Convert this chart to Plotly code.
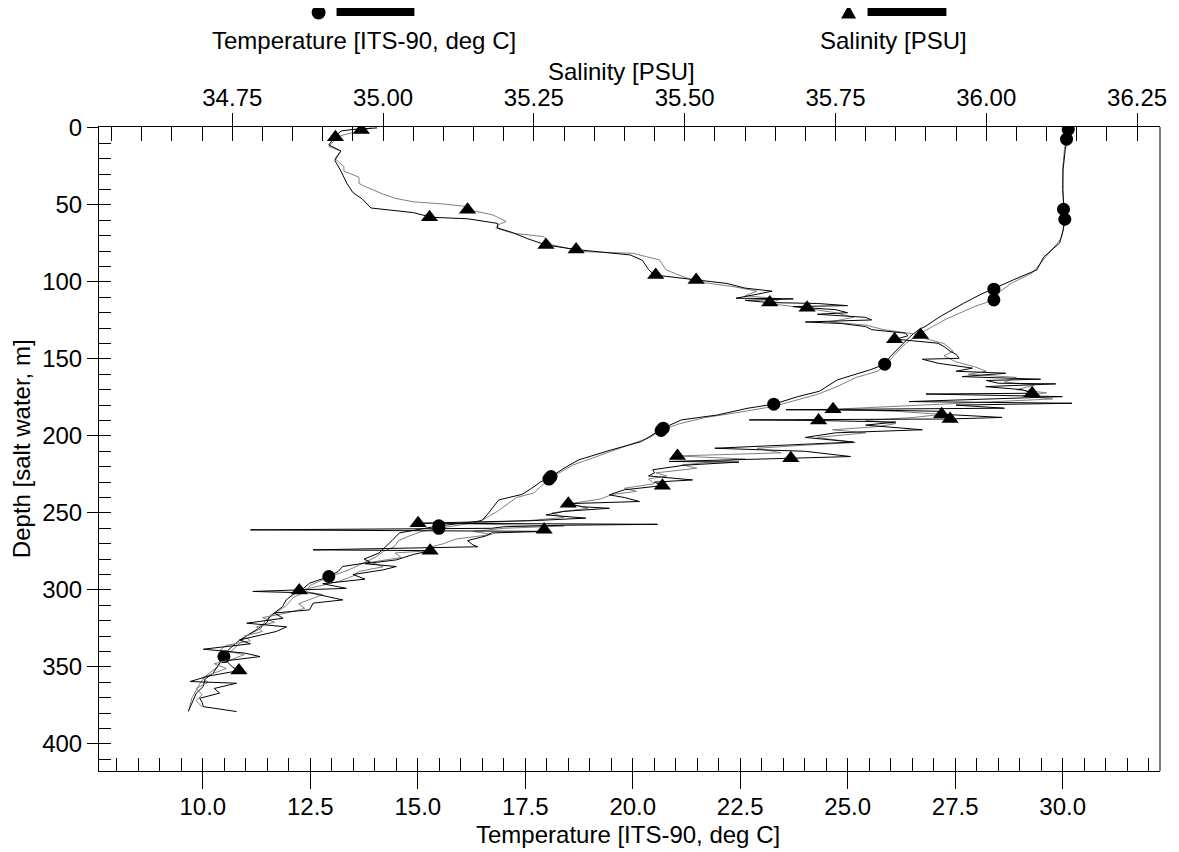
import plotly.graph_objects as go

FONT = "Liberation Sans, Arial, sans-serif"
FS = 24

# ---------------- data ----------------
temp_down_depth = [0, 6, 14, 27, 40, 52.6, 59.7, 67.5, 74.7, 83.8,
                   92.2, 98.7, 104.5, 108, 113.8, 122.5, 129, 131, 135.5, 142,
                   148.5, 153.5, 157, 163.6, 171, 174.5, 179.4, 182, 186.4, 189.6,
                   195, 203.7, 209, 215.6, 221, 226.4, 230, 234, 238, 241.6,
                   250, 255, 256, 258.4, 263, 268, 272, 276, 280, 282,
                   284.8, 288, 291.3, 295.7, 300, 303, 306.5, 311, 317.3, 321,
                   326, 332.5, 339, 343.3, 348, 354, 358, 362.7, 367, 371.4,
                   376, 379]
temp_down = [30.14, 30.12, 30.06, 30.01, 30.00, 30.03, 30.05, 30.00, 29.93, 29.56,
             29.40, 28.85, 28.40, 28.10, 27.70, 27.15, 26.80, 26.65, 26.45, 26.22,
             25.99, 25.86, 25.53, 24.76, 24.34, 23.84, 23.28, 22.68, 21.97, 21.13,
             20.71, 20.20, 19.51, 18.74, 18.40, 18.10, 17.85, 17.65, 17.42, 16.88,
             16.65, 16.49, 16.26, 15.49, 14.57, 14.40, 14.26, 14.10, 13.75, 13.90,
             13.25, 13.15, 12.93, 12.48, 12.30, 12.10, 11.94, 11.85, 11.55, 11.50,
             11.24, 10.86, 10.59, 10.49, 10.40, 10.24, 10.05, 10.01, 9.85, 9.78,
             9.70, 9.66]

temp_up_depth = [0, 7, 14, 27, 40, 52, 59.3, 66, 72, 78,
                 86, 94, 101, 106, 111.7, 116, 124, 130, 134, 140,
                 147, 153.4, 158, 162, 168, 173, 177, 181, 185, 188,
                 192, 196, 201, 206, 212, 219, 228, 233, 237, 240,
                 244, 249, 253, 256, 260, 262, 265, 268, 272, 275,
                 279, 283, 287, 291, 294, 297, 301, 305, 310, 315,
                 320, 325, 330, 335, 340, 345, 350, 355, 360, 365,
                 370, 375, 378]
temp_up = [30.12, 30.09, 30.04, 30.00, 30.01, 30.02, 30.05, 30.02, 29.96, 29.78,
           29.52, 29.30, 28.80, 28.55, 28.40, 27.95, 27.30, 26.90, 26.65, 26.35,
           26.10, 25.90, 25.70, 25.20, 24.75, 24.30, 23.80, 23.25, 22.40, 21.70,
           21.10, 20.68, 20.40, 19.90, 19.30, 18.60, 18.05, 17.85, 17.70, 17.30,
           17.10, 16.85, 16.60, 16.40, 15.49, 15.10, 14.80, 14.55, 14.45, 14.20,
           14.00, 13.70, 13.40, 13.00, 12.75, 12.50, 12.40, 12.10, 11.95, 11.70,
           11.45, 11.35, 11.00, 10.85, 10.65, 10.45, 10.35, 10.10, 9.95, 9.85,
           9.75, 9.70, 9.68]

sal_down_depth = [0, 1, 2, 6, 11, 15, 21, 28, 36, 42,
                  46, 52, 55, 58, 59, 62, 65, 68, 72, 76,
                  79, 82.5, 86, 92, 95.5, 98.7, 101, 104, 106, 108,
                  110.6, 111, 112, 113.4, 114, 115.4, 116, 116.7, 118, 120,
                  121, 123, 124.7, 126, 127, 129, 131, 133.3, 135, 137.2,
                  139.8, 142, 145, 147, 149.6, 150.2, 152.8, 156, 158, 159.3,
                  161.5, 163.2, 164, 165.8, 166.2, 168, 170, 172.3, 172.8, 174.5,
                  177.7, 178.8, 180, 182, 183, 183.5, 184, 186, 188, 189,
                  189.6, 190, 191, 193, 196, 198, 201, 204, 206, 208,
                  210, 213.4, 214.5, 216.6, 217, 219, 222, 224, 226, 228.6,
                  230, 232.3, 235, 238.3, 240, 242.6, 244, 246, 247, 249,
                  251.3, 253.4, 255, 256.7, 257.4, 258, 259, 260, 261, 262,
                  263, 265, 268, 270.8, 272, 274, 274.5, 277, 280.5, 283,
                  284.8, 287, 290, 293, 296, 299, 301, 302, 306.5, 308.6,
                  313, 315, 318.4, 321.6, 324, 327, 332.5, 335, 338.5, 341,
                  343.3, 346, 350, 352.4, 356, 359.5, 360.6, 364, 367, 370.4,
                  373, 375.8, 379]
sal_down = [34.99, 34.95, 34.93, 34.92, 34.91, 34.93, 34.92, 34.93, 34.94, 34.95,
            34.965, 34.98, 35.05, 35.08, 35.14, 35.19, 35.19, 35.215, 35.24, 35.27,
            35.32, 35.41, 35.43, 35.44, 35.45, 35.52, 35.57, 35.60, 35.645, 35.62,
            35.585, 35.68, 35.60, 35.64, 35.72, 35.77, 35.68, 35.70, 35.75, 35.77,
            35.72, 35.80, 35.81, 35.70, 35.76, 35.80, 35.81, 35.866, 35.87, 35.85,
            35.92, 35.93, 35.94, 35.95, 35.955, 35.894, 35.92, 35.977, 35.95, 36.032,
            35.96, 36.09, 36.00, 36.02, 36.115, 35.999, 36.06, 36.076, 35.90, 36.126,
            35.872, 36.142, 35.95, 36.03, 35.668, 35.85, 35.92, 35.93, 36.026, 35.94,
            35.607, 35.72, 35.85, 35.80, 35.894, 35.75, 35.70, 35.78, 35.65, 35.55,
            35.70, 35.775, 35.676, 35.474, 35.59, 35.50, 35.447, 35.45, 35.44, 35.513,
            35.45, 35.463, 35.40, 35.375, 35.40, 35.425, 35.307, 35.33, 35.375, 35.30,
            35.27, 35.336, 35.25, 35.06, 35.455, 35.30, 35.20, 35.18, 34.78, 35.27,
            35.18, 35.17, 35.14, 35.149, 35.157, 34.884, 35.078, 35.05, 35.022, 34.97,
            35.022, 35.00, 34.95, 34.97, 34.90, 34.939, 34.784, 34.88, 34.933, 34.884,
            34.878, 34.82, 34.834, 34.774, 34.84, 34.823, 34.762, 34.78, 34.702, 34.77,
            34.796, 34.74, 34.75, 34.761, 34.71, 34.68, 34.757, 34.72, 34.729, 34.696,
            34.70, 34.702, 34.757]

sal_up_depth = [0, 2, 5, 8, 12, 15, 20, 25, 28, 32,
                36, 38, 43, 45.7, 48, 49.4, 51, 53, 56.5, 60.8,
                63, 65, 68.4, 70.5, 76, 80.3, 81.4, 85.7, 92.2, 97,
                99.8, 103, 106, 109, 111, 114, 117, 120, 123, 126,
                128, 131, 134.4, 137, 140, 145, 148, 152, 155, 158,
                160, 162, 165, 167, 170, 172, 174, 176, 178, 180,
                182.7, 184, 186, 188, 190, 192, 194, 196, 198, 201,
                204.3, 206, 208, 211, 213, 215, 218.8, 221, 224, 226,
                228, 231, 234, 236, 238, 241, 244, 247, 250, 253,
                255, 257, 258.5, 260, 262, 264, 267, 270, 272, 274.5,
                276, 279, 282, 285, 288, 291, 294, 297, 300.4, 303,
                306, 309, 312, 315, 318, 321, 324, 327, 330, 333,
                336, 339, 342, 345, 348, 351, 354, 357, 360, 364,
                368, 372, 376]
sal_up = [34.98, 34.96, 34.93, 34.92, 34.91, 34.93, 34.92, 34.935, 34.935, 34.96,
          34.96, 34.97, 35.00, 35.02, 35.05, 35.10, 35.138, 35.14, 35.182, 35.204,
          35.19, 35.187, 35.215, 35.265, 35.281, 35.331, 35.414, 35.458, 35.469, 35.50,
          35.519, 35.58, 35.62, 35.60, 35.66, 35.64, 35.70, 35.75, 35.78, 35.74,
          35.80, 35.83, 35.891, 35.90, 35.93, 35.945, 35.93, 35.95, 35.98, 36.00,
          35.97, 36.05, 36.03, 36.08, 36.05, 36.10, 36.06, 36.11, 36.00, 35.90,
          35.746, 35.85, 35.926, 35.88, 35.80, 35.85, 35.82, 35.745, 35.80, 35.72,
          35.783, 35.70, 35.62, 35.66, 35.488, 35.60, 35.496, 35.52, 35.452, 35.47,
          35.44, 35.45, 35.40, 35.42, 35.38, 35.36, 35.31, 35.34, 35.28, 35.30,
          35.24, 35.12, 35.30, 35.20, 35.15, 35.18, 35.12, 35.10, 35.08, 35.078,
          35.02, 35.03, 34.98, 35.00, 34.96, 34.95, 34.93, 34.90, 34.861, 34.90,
          34.88, 34.86, 34.87, 34.84, 34.80, 34.82, 34.79, 34.80, 34.77, 34.78,
          34.74, 34.73, 34.77, 34.75, 34.72, 34.74, 34.72, 34.70, 34.71, 34.69,
          34.70, 34.69, 34.70]

temp_marker_depth = [1, 7.3, 52.8, 59.3, 104.7, 111.7, 153.4, 179.4, 195, 196.5,
                     226.4, 228, 258.4, 260, 291.3, 343.3]
temp_marker = [30.13, 30.09, 30.02, 30.05, 28.40, 28.40, 25.86, 23.28, 20.71, 20.66,
               18.10, 18.05, 15.49, 15.49, 12.93, 10.49]

sal_marker_depth = [1.3, 6, 53.2, 58, 76, 79, 95.5, 98.7, 113.4, 116.7,
                    134.4, 137.2, 172.3, 182.7, 186, 189, 190, 213, 214.5, 232.3,
                    244, 256.7, 261, 274.5, 300.4, 352.4]
sal_marker = [34.964, 34.921, 35.140, 35.077, 35.270, 35.320, 35.452, 35.519, 35.641, 35.703,
              35.891, 35.848, 36.076, 35.746, 35.926, 35.940, 35.722, 35.488, 35.676, 35.463,
              35.307, 35.058, 35.267, 35.078, 34.861, 34.761]

temp_ticks = [10.0, 12.5, 15.0, 17.5, 20.0, 22.5, 25.0, 27.5, 30.0]
sal_ticks = [34.75, 35.00, 35.25, 35.50, 35.75, 36.00, 36.25]
depth_ticks = [0, 50, 100, 150, 200, 250, 300, 350, 400]

assert len(temp_down_depth) == len(temp_down)
assert len(temp_up_depth) == len(temp_up)
assert len(sal_down_depth) == len(sal_down)
assert len(sal_up_depth) == len(sal_up)
assert len(temp_marker_depth) == len(temp_marker)
assert len(sal_marker_depth) == len(sal_marker)

# ---------------- layout constants ----------------
T_RANGE = [7.585, 32.264]
S_RANGE = [34.529, 36.288]
D_RANGE = [417.6, -0.6]
BODY = 8                      # default page margin around the plot div
W, H = 1179 - BODY, 852 - BODY
ML, MR, MT, MB = 99 - BODY, 17, 127 - BODY, 81
PW, PH = W - ML - MR, H - MT - MB


def px(x):   # page pixel -> paper x
    return (x - BODY - ML) / PW


def py(y):   # page pixel -> paper y
    return (H - MB - (y - BODY)) / PH


GRAY = "#808080"
fig = go.Figure()
fig.add_trace(go.Scatter(x=temp_up, y=temp_up_depth, xaxis="x", yaxis="y", mode="lines",
                         line=dict(color=GRAY, width=1), showlegend=False, hoverinfo="skip"))
fig.add_trace(go.Scatter(x=sal_up, y=sal_up_depth, xaxis="x2", yaxis="y", mode="lines",
                         line=dict(color=GRAY, width=1), showlegend=False, hoverinfo="skip"))
fig.add_trace(go.Scatter(x=temp_down, y=temp_down_depth, xaxis="x", yaxis="y", mode="lines",
                         line=dict(color="black", width=1), showlegend=False))
fig.add_trace(go.Scatter(x=sal_down, y=sal_down_depth, xaxis="x2", yaxis="y", mode="lines",
                         line=dict(color="black", width=1), showlegend=False))
fig.add_trace(go.Scatter(x=temp_marker, y=temp_marker_depth, xaxis="x", yaxis="y", mode="markers",
                         marker=dict(symbol="circle", size=13, color="black"), showlegend=False))
fig.add_trace(go.Scatter(x=sal_marker, y=sal_marker_depth, xaxis="x2", yaxis="y", mode="markers",
                         marker=dict(symbol="triangle-up", size=15, color="black"), showlegend=False))
# invisible carriers so the minor-tick axes get drawn
for xa, ya in (("x3", "y"), ("x4", "y"), ("x", "y2")):
    fig.add_trace(go.Scatter(x=[None], y=[None], xaxis=xa, yaxis=ya, mode="lines",
                             showlegend=False, hoverinfo="skip"))

tickfont = dict(family=FONT, size=FS, color="black")
common = dict(showgrid=False, zeroline=False, tickcolor="black", tickwidth=1)

fig.update_layout(
    width=W, height=H,
    margin=dict(l=ML, r=MR, t=MT, b=MB, pad=0),
    paper_bgcolor="white", plot_bgcolor="white",
    font=dict(family=FONT, size=FS, color="black"),
    xaxis=dict(range=T_RANGE, tickvals=temp_ticks, ticktext=["%.1f" % v for v in temp_ticks],
               ticks="outside", ticklen=17, showline=True, linecolor="black", linewidth=1,
               tickfont=tickfont, anchor="y", side="bottom", ticklabelstandoff=-3, **common),
    xaxis3=dict(range=T_RANGE, overlaying="x", anchor="y", side="bottom", tick0=0, dtick=0.5,
                ticks="inside", ticklen=13, showticklabels=False, showline=False, **common),
    xaxis2=dict(range=S_RANGE, overlaying="x", anchor="y", side="top", tickvals=sal_ticks,
                ticktext=["%.2f" % v for v in sal_ticks], ticks="outside", ticklen=13,
                showline=True, linecolor="black", linewidth=1, tickfont=tickfont,
                ticklabelstandoff=-3, **common),
    xaxis4=dict(range=S_RANGE, overlaying="x", anchor="y", side="top", tick0=0, dtick=0.05,
                ticks="inside", ticklen=14, showticklabels=False, showline=False, **common),
    yaxis=dict(range=D_RANGE, tickvals=depth_ticks, ticks="outside", ticklen=11, showline=True,
               linecolor="black", linewidth=1, tickfont=tickfont, anchor="x", side="left", **common),
    yaxis2=dict(range=D_RANGE, overlaying="y", anchor="x", side="left", tick0=0, dtick=10,
                ticks="inside", ticklen=12, showticklabels=False, showline=False, **common),
)

shapes = [
    dict(type="line", xref="paper", yref="paper", x0=1, x1=1, y0=0, y1=1,
         line=dict(color="black", width=1)),
    dict(type="circle", xref="paper", yref="paper", x0=px(312), x1=px(326), y0=py(19.5), y1=py(5.5),
         fillcolor="black", line=dict(color="black", width=0)),
    dict(type="rect", xref="paper", yref="paper", x0=px(337), x1=px(415), y0=py(16), y1=py(8),
         fillcolor="black", line=dict(color="black", width=0)),
    dict(type="path", xref="paper", yref="paper",
         path="M %f,%f L %f,%f L %f,%f Z" % (px(850), py(5), px(842.5), py(18.5), px(857.5), py(18.5)),
         fillcolor="black", line=dict(color="black", width=0)),
    dict(type="rect", xref="paper", yref="paper", x0=px(869), x1=px(948), y0=py(16), y1=py(8),
         fillcolor="black", line=dict(color="black", width=0)),
]

annotations = [
    dict(text="Temperature [ITS-90, deg C]", xref="paper", yref="paper", x=px(365), y=py(41),
         showarrow=False, xanchor="center", yanchor="middle", font=dict(family=FONT, size=FS)),
    dict(text="Salinity [PSU]", xref="paper", yref="paper", x=px(895), y=py(41),
         showarrow=False, xanchor="center", yanchor="middle", font=dict(family=FONT, size=FS)),
    dict(text="Salinity [PSU]", xref="paper", yref="paper", x=px(622), y=py(71),
         showarrow=False, xanchor="center", yanchor="middle", font=dict(family=FONT, size=FS)),
    dict(text="Temperature [ITS-90, deg C]", xref="paper", yref="paper", x=px(629), y=py(834),
         showarrow=False, xanchor="center", yanchor="middle", font=dict(family=FONT, size=FS)),
    dict(text="Depth [salt water, m]", xref="paper", yref="paper", x=px(21), y=py(449),
         showarrow=False, xanchor="center", yanchor="middle", textangle=-90,
         font=dict(family=FONT, size=FS)),
]

fig.update_layout(shapes=shapes, annotations=annotations)
fig.write_html("out.html")
